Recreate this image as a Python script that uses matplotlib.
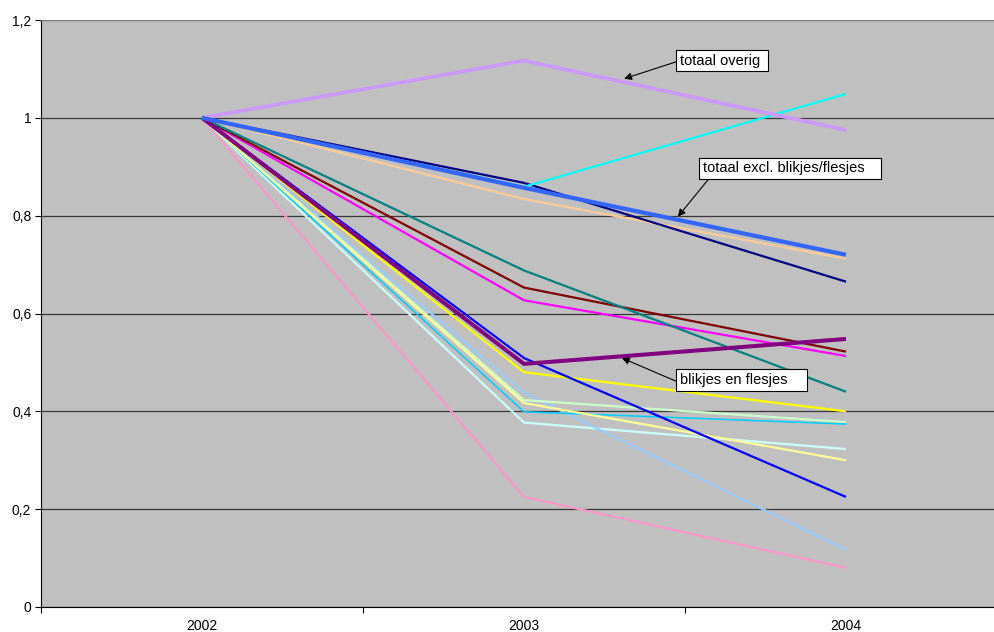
import matplotlib.pyplot as plt
from matplotlib.ticker import FixedLocator, FuncFormatter

plt.rcParams['font.family'] = ['Liberation Sans', 'DejaVu Sans']

years = ['2002', '2003', '2004']

# index values per series (2002 = 1)
pink = [1, 0.225, 0.080]
pale_cyan = [1, 0.377, 0.323]
light_blue = [1, 0.438, 0.117]
sky = [1, 0.399, 0.374]
light_yellow = [1, 0.417, 0.300]
light_green = [1, 0.423, 0.378]
yellow = [1, 0.480, 0.400]
blue = [1, 0.509, 0.225]
magenta = [1, 0.627, 0.513]
maroon = [1, 0.653, 0.522]
teal = [1, 0.688, 0.440]
peach = [1, 0.834, 0.712]
navy = [1, 0.867, 0.665]
cyan = [1, 0.859, 1.049]
blikjes_en_flesjes = [1, 0.497, 0.548]
totaal_excl = [1, 0.857, 0.720]
totaal_overig = [1, 1.117, 0.975]

series = [
    (pink, '#FF99CC', 1.6),
    (pale_cyan, '#CCFFFF', 1.6),
    (light_blue, '#99CCFF', 1.6),
    (light_green, '#CCFFCC', 1.6),
    (sky, '#00CCFF', 1.1),
    (light_yellow, '#FFFF99', 1.6),
    (yellow, '#FFFF00', 1.6),
    (blue, '#0000FF', 1.6),
    (magenta, '#FF00FF', 1.6),
    (maroon, '#800000', 1.6),
    (teal, '#008080', 1.6),
    (peach, '#FFCC99', 1.6),
    (navy, '#000080', 1.6),
    (cyan, '#00FFFF', 1.6),
    (blikjes_en_flesjes, '#800080', 2.9),
    (totaal_overig, '#CC99FF', 2.7),
    (totaal_excl, '#3366FF', 3.0),
]

fig = plt.figure(figsize=(9.95, 6.32), dpi=100)
# plot area runs past the right edge, as in the original
ax = fig.add_axes([41 / 995, 25 / 632, 966 / 995, 587 / 632])
ax.set_facecolor('#C0C0C0')

x = list(range(len(years)))
for values, color, lw in series:
    ax.plot(x, values, color=color, lw=lw, solid_capstyle='butt', zorder=3)

ax.set_xlim(-0.5, 2.5)
ax.set_ylim(0, 1.2)

ax.yaxis.set_major_locator(FixedLocator([0, 0.2, 0.4, 0.6, 0.8, 1.0, 1.2]))
ax.yaxis.set_major_formatter(FuncFormatter(lambda v, p: ('%g' % round(v, 1)).replace('.', ',')))
ax.grid(axis='y', color='#383838', lw=0.9, zorder=1)
ax.set_axisbelow(True)

# category labels centred, ticks between categories
ax.xaxis.set_major_locator(FixedLocator([-0.5, 0.5, 1.5, 2.5]))
ax.xaxis.set_major_formatter(FuncFormatter(lambda v, p: ''))
ax.xaxis.set_minor_locator(FixedLocator(x))
ax.xaxis.set_minor_formatter(FuncFormatter(lambda v, p: years[int(round(v))]))
ax.tick_params(axis='x', which='minor', length=0, pad=9, labelsize=10)
ax.tick_params(axis='x', which='major', length=4, width=0.8, direction='out')
ax.tick_params(axis='y', length=4, width=0.8, direction='out', labelsize=10, pad=3)

ax.spines['left'].set_color('black')
ax.spines['bottom'].set_color('black')
ax.spines['top'].set_color('#808080')
ax.spines['right'].set_visible(False)

box = dict(boxstyle='square,pad=0.25', fc='white', ec='black', lw=0.8)


def arrow(rel):
    return dict(arrowstyle='-|>', color='black', lw=0.8, mutation_scale=11,
                shrinkA=0, shrinkB=0, relpos=rel)


ax.annotate('totaal overig ', xy=(1.311, 1.080), xytext=(1.484, 1.117),
            fontsize=10.5, va='center', ha='left', bbox=box, arrowprops=arrow((0, 0.5)), zorder=5)
ax.annotate('totaal excl. blikjes/flesjes   ', xy=(1.478, 0.798), xytext=(1.556, 0.897),
            fontsize=10.5, va='center', ha='left', bbox=box, arrowprops=arrow((0.05, 0)), zorder=5)
ax.annotate('blikjes en flesjes    ', xy=(1.304, 0.509), xytext=(1.484, 0.464),
            fontsize=10.5, va='center', ha='left', bbox=box, arrowprops=arrow((0, 0.3)), zorder=5)

fig.savefig('out.png', dpi=100)
